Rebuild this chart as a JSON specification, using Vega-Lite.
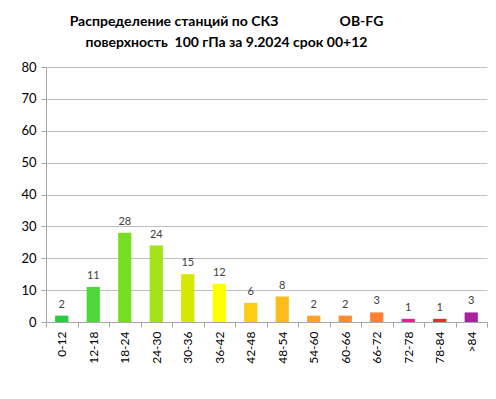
{
  "$schema": "https://vega.github.io/schema/vega-lite/v6.json",
  "autosize": {"type": "none"},
  "width": 441,
  "height": 255,
  "padding": {"left": 46, "top": 67, "right": 9, "bottom": 77},
  "background": "white",
  "title": {
    "text": ["Распределение станций по СКЗ \u00a0\u00a0\u00a0\u00a0\u00a0\u00a0\u00a0\u00a0\u00a0\u00a0\u00a0\u00a0\u00a0\u00a0\u00a0\u00a0 OB-FG", "поверхность \u00a0100 гПа за 9.2024 срок 00+12"],
    "anchor": "middle",
    "dx": -40,
    "offset": 11,
    "font": "Lato",
    "fontSize": 14,
    "fontWeight": "bold",
    "color": "#000000",
    "lineHeight": 21
  },
  "config": {
    "view": {"stroke": null},
    "font": "Lato"
  },
  "data": {
    "values": [
      {"range": "0-12", "count": 2},
      {"range": "12-18", "count": 11},
      {"range": "18-24", "count": 28},
      {"range": "24-30", "count": 24},
      {"range": "30-36", "count": 15},
      {"range": "36-42", "count": 12},
      {"range": "42-48", "count": 6},
      {"range": "48-54", "count": 8},
      {"range": "54-60", "count": 2},
      {"range": "60-66", "count": 2},
      {"range": "66-72", "count": 3},
      {"range": "72-78", "count": 1},
      {"range": "78-84", "count": 1},
      {"range": ">84", "count": 3}
    ]
  },
  "encoding": {
    "x": {
      "field": "range",
      "type": "nominal",
      "sort": null,
      "scale": {"paddingInner": 0, "paddingOuter": 0},
      "axis": {
        "title": null,
        "labelAngle": -90,
        "labelFont": "Lato",
        "labelFontSize": 12,
        "labelColor": "#000000",
        "labelPadding": 4,
        "tickBand": "extent",
        "tickSize": 5,
        "tickColor": "#a6a6a6",
        "domainColor": "#a6a6a6",
        "grid": false
      }
    },
    "y": {
      "field": "count",
      "type": "quantitative",
      "scale": {"domain": [0, 80]},
      "axis": {
        "title": null,
        "values": [0, 10, 20, 30, 40, 50, 60, 70, 80],
        "labelFont": "Lato",
        "labelFontSize": 13,
        "labelColor": "#000000",
        "labelPadding": 5,
        "tickSize": 5,
        "tickColor": "#a6a6a6",
        "domainColor": "#a6a6a6",
        "gridColor": "#bfbfbf",
        "gridWidth": 1.2
      }
    }
  },
  "layer": [
    {
      "mark": {"type": "bar", "width": {"band": 0.42}},
      "encoding": {
        "color": {
          "field": "range",
          "type": "nominal",
          "legend": null,
          "scale": {
            "domain": ["0-12", "12-18", "18-24", "24-30", "30-36", "36-42", "42-48", "48-54", "54-60", "60-66", "66-72", "72-78", "78-84", ">84"],
            "range": ["#2dc942", "#4fd63a", "#77de22", "#a6e21a", "#d4e800", "#ffff00", "#ffcc14", "#fcbc1c", "#ffa030", "#ff8c30", "#ff8032", "#ff1493", "#ee2a2a", "#aa2299"]
          }
        }
      }
    },
    {
      "mark": {"type": "text", "baseline": "bottom", "dy": -6, "font": "Lato", "fontSize": 11, "color": "#404040"},
      "encoding": {"text": {"field": "count", "type": "quantitative"}}
    }
  ]
}
